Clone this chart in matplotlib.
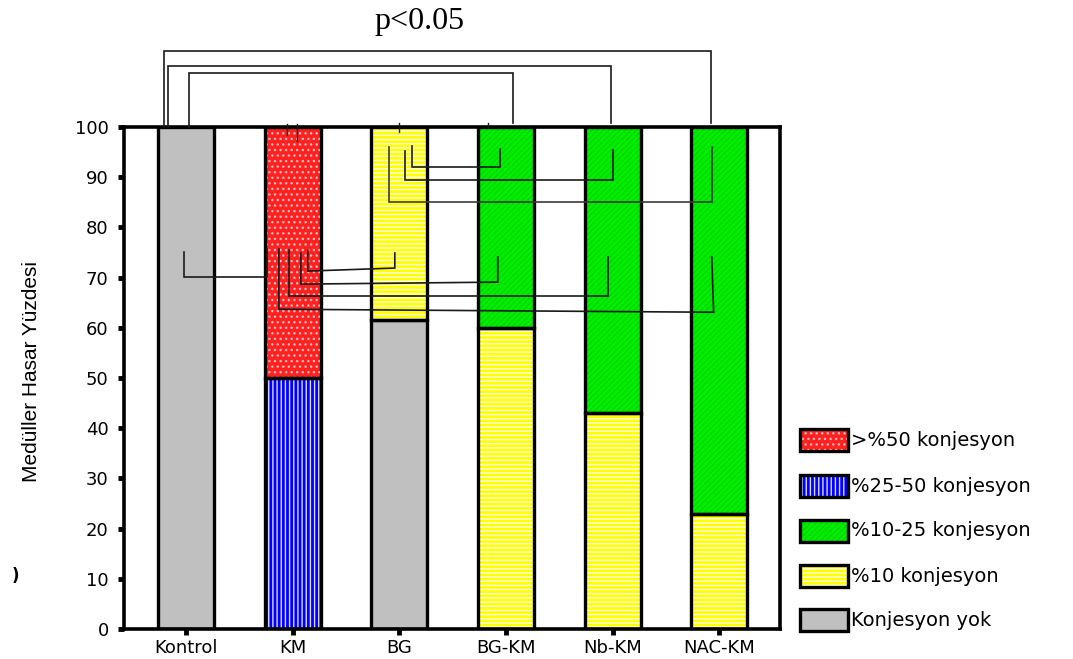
import matplotlib
matplotlib.use("Agg")
import matplotlib.pyplot as plt
from matplotlib.patches import Rectangle

# ---- data -------------------------------------------------------------
groups = ["Kontrol", "KM", "BG", "BG-KM", "Nb-KM", "NAC-KM"]
labels = [">%50 konjesyon", "%25-50 konjesyon", "%10-25 konjesyon",
          "%10 konjesyon", "Konjesyon yok"]
gt50 = [0, 50, 0, 0, 0, 0]
p25_50 = [0, 50, 0, 0, 0, 0]
p10_25 = [0, 0, 0, 40, 57, 77]
p10 = [0, 0, 38.5, 60, 43, 23]
none = [100, 0, 61.5, 0, 0, 0]
yticks = list(range(0, 101, 10))

# ---- styles (bottom-to-top stacking order) ----------------------------
styles = {
    "Konjesyon yok": dict(fc="#c0c0c0", hatch=None, hc=None),
    "%10 konjesyon": dict(fc="#ffff00", hatch="----", hc=(1, 1, 1, 0.95)),
    "%10-25 konjesyon": dict(fc="#00f000", hatch="//////", hc=(0.0, 0.55, 0.0, 0.25)),
    "%25-50 konjesyon": dict(fc="#0000ff", hatch="||||", hc=(1, 1, 1, 0.85)),
    ">%50 konjesyon": dict(fc="#ff2020", hatch="...", hc=(1, 0.8, 0.8, 0.85)),
}
stack = [("Konjesyon yok", none), ("%10 konjesyon", p10),
         ("%10-25 konjesyon", p10_25), ("%25-50 konjesyon", p25_50),
         (">%50 konjesyon", gt50)]

plt.rcParams["hatch.linewidth"] = 1.0
plt.rcParams["font.family"] = ["DejaVu Sans"]

W, H = 1073, 659
fig = plt.figure(figsize=(W / 100, H / 100), dpi=100)
ax = fig.add_axes([124 / W, 1 - 629 / H, (780 - 124) / W, (629 - 127) / H])

x = list(range(len(groups)))
bw = 0.525
bottom = [0.0] * len(groups)
for name, vals in stack:
    st = styles[name]
    for i, v in enumerate(vals):
        if v <= 0:
            continue
        if st["hatch"]:
            ax.bar(x[i], v, bw, bottom=bottom[i], color=st["fc"],
                   hatch=st["hatch"], edgecolor=st["hc"], linewidth=0, zorder=2)
        else:
            ax.bar(x[i], v, bw, bottom=bottom[i], color=st["fc"],
                   linewidth=0, zorder=2)
        ax.bar(x[i], v, bw, bottom=bottom[i], fill=False,
               edgecolor="black", linewidth=2.4, zorder=3)
    bottom = [b + v for b, v in zip(bottom, vals)]

ax.set_xlim(-0.58, 5.57)
ax.set_ylim(0, 100)
ax.set_yticks(yticks)
ax.set_xticks(x)
ax.set_xticklabels(groups)
for sp in ax.spines.values():
    sp.set_linewidth(2.6)
ax.tick_params(axis="both", length=4, width=3.5, direction="out",
               labelsize=13, colors="black")
ax.tick_params(axis="y", pad=7)
ax.tick_params(axis="x", pad=3)

lc = "#1a1a1a"
lw = 1.2


def bracket(x0, x1, y0top, ybar0, x1top=None, y1top=None, ybar1=None, color=lc):
    if x1top is None:
        x1top = x1
    if ybar1 is None:
        ybar1 = ybar0
    if y1top is None:
        y1top = y0top
    ax.plot([x0, x0, x1, x1top], [y0top, ybar0, ybar1, y1top],
            color=color, lw=lw, clip_on=False, zorder=4,
            solid_joinstyle="miter")


# significance brackets above the frame
bracket(-0.206, 4.92, 100, 115.1, y1top=100.8)
bracket(-0.169, 3.99, 100, 112.2, y1top=100.8)
bracket(0.028, 3.065, 100, 110.8, y1top=100.8)

# small marks across the top edge
for xs, ya, yb in [(0.95, 98.5, 100.6), (1.04, 97.2, 100.6),
                   (2.0, 99.0, 100.8), (2.83, 100, 100.8)]:
    ax.plot([xs, xs], [ya, yb], color=lc, lw=1.0, clip_on=False, zorder=4)

# BG comparisons
bracket(2.118, 2.943, 96.2, 92.0, y1top=95.6)
bracket(2.052, 4.002, 95.2, 89.4, y1top=95.4)
bracket(1.903, 4.93, 96.0, 85.1, y1top=96.0, color="#3a3a3a")

# Kontrol / KM comparisons
bracket(-0.019, 0.759, 75.1, 70.1, y1top=75.7)
bracket(1.143, 1.959, 75.5, 71.3, ybar1=71.9, y1top=74.9)
bracket(1.078, 2.924, 74.9, 68.7, ybar1=69.1, y1top=74.1)
bracket(0.965, 3.955, 75.5, 66.3, y1top=74.1)
bracket(0.872, 4.948, 75.7, 63.7, ybar1=63.1, x1top=4.93, y1top=74.1)

fig.text(420 / W, 1 - 22 / H, "p<0.05", ha="center", va="center",
         fontsize=23, family=["Liberation Serif", "DejaVu Serif"])

fig.text(32 / W, 1 - 371 / H, "Medüller Hasar Yüzdesi", rotation=90,
         ha="center", va="center", fontsize=15,
         family=["Liberation Sans Narrow", "Liberation Sans", "DejaVu Sans"])
fig.text(15 / W, 1 - 576 / H, ")", ha="center", va="center",
         fontsize=12, fontweight="bold")

# legend drawn in figure pixels
rows_y = [440, 486, 531, 576, 620]
for lab, yc in zip(labels, rows_y):
    st = styles[lab]
    x0, w, h = 800, 48, 22
    rect_kw = dict(transform=fig.transFigure, figure=fig)
    if st["hatch"]:
        fig.patches.append(Rectangle((x0 / W, 1 - (yc + h / 2) / H), w / W, h / H,
                                     facecolor=st["fc"], hatch=st["hatch"],
                                     edgecolor=st["hc"], linewidth=0, **rect_kw))
    else:
        fig.patches.append(Rectangle((x0 / W, 1 - (yc + h / 2) / H), w / W, h / H,
                                     facecolor=st["fc"], linewidth=0, **rect_kw))
    fig.patches.append(Rectangle((x0 / W, 1 - (yc + h / 2) / H), w / W, h / H,
                                 fill=False, edgecolor="black", linewidth=2.4,
                                 **rect_kw))
    fig.text(851 / W, 1 - yc / H, lab, ha="left", va="center", fontsize=14)

fig.savefig("out.png", dpi=100)
